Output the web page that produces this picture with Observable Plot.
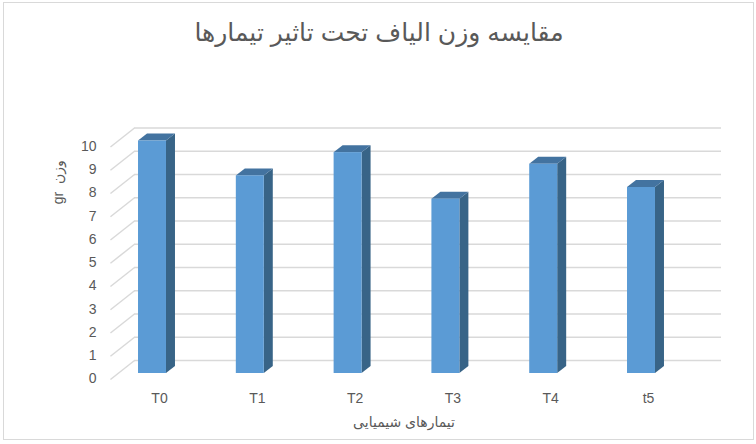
<!DOCTYPE html>
<html>
<head>
<meta charset="utf-8">
<script src="https://cdn.jsdelivr.net/npm/d3@7"></script>
<script src="https://cdn.jsdelivr.net/npm/@observablehq/plot@0.6"></script>
<style>
  html, body { margin: 0; padding: 0; background: #fff; }
  #chart { position: relative; width: 756px; height: 444px; overflow: hidden; }
  #chart svg { display: block; }
  #frame { position: absolute; left: 3px; top: 2px; width: 749px; height: 436px; border: 1px solid #d9d9d9; box-sizing: content-box; pointer-events: none; }
</style>
</head>
<body>
<div id="chart"><div id="frame"></div></div>
<script>
const categories = ["T0", "T1", "T2", "T3", "T4", "t5"];
const values = [10, 8.5, 9.5, 7.5, 9, 8];
const valueTicks = [0, 1, 2, 3, 4, 5, 6, 7, 8, 9, 10];
const titleText = "مقایسه وزن الیاف تحت تاثیر تیمارها";
const xTitle = "تیمارهای شیمیایی";
const yTitle = "gr  وزن";

// 3D projection constants, in scale units
const halfBar = 0.143, depthX = 0.092, depthY = 0.30;
const wallLeft = -0.184, wallRight = 5.818, wallRise = 0.559;
const floorLeft = -0.43, floorDrop = -0.258;

const bars = categories.map((c, i) => ({c, i, v: values[i]}));
const font = "'Liberation Sans', 'DejaVu Sans', sans-serif";

const sideFaces = bars.flatMap(b => [
  {z: b.c, x: b.i + halfBar, y1: 0, y2: b.v},
  {z: b.c, x: b.i + halfBar + depthX, y1: depthY, y2: b.v + depthY}
]);
const topFaces = bars.flatMap(b => [
  {z: b.c, y: b.v, x1: b.i - halfBar, x2: b.i + halfBar},
  {z: b.c, y: b.v + depthY, x1: b.i - halfBar + depthX, x2: b.i + halfBar + depthX}
]);

const chart = Plot.plot({
  width: 756,
  height: 444,
  marginLeft: 152,
  marginRight: 115,
  marginTop: 140.5,
  marginBottom: 71,
  style: {background: "transparent", fontFamily: font},
  x: {domain: [0, 5], range: [152, 641], axis: null},
  y: {domain: [0, 10], range: [373, 140.5], axis: null},
  marks: [
    Plot.ruleY(valueTicks, {y: d => d + wallRise, x1: wallLeft, x2: wallRight, stroke: "#d9d9d9", strokeWidth: 1.5}),
    Plot.link(valueTicks, {
      x1: floorLeft, y1: d => d + floorDrop,
      x2: wallLeft, y2: d => d + wallRise,
      stroke: "#d9d9d9", strokeWidth: 1.5
    }),
    Plot.areaY(sideFaces, {x: "x", y1: "y1", y2: "y2", z: "z", fill: "#386487", curve: "linear"}),
    Plot.areaX(topFaces, {y: "y", x1: "x1", x2: "x2", z: "z", fill: "#4373a0", curve: "linear"}),
    Plot.rect(bars, {x1: d => d.i - halfBar, x2: d => d.i + halfBar, y1: 0, y2: "v", fill: "#5b9bd5", inset: 0}),
    Plot.axisY({ticks: valueTicks, tickSize: 0, tickPadding: 56, dy: 5.5, label: null, fontSize: 14, color: "#595959"}),
    Plot.axisX({ticks: d3.range(categories.length), tickFormat: i => categories[i], tickSize: 0, tickPadding: 20, dx: 7, label: null, fontSize: 14, color: "#595959"}),
    Plot.text([titleText], {text: d => d, frameAnchor: "top", dy: -118, dx: -18, fontSize: 25, fill: "#595959", fontFamily: font}),
    Plot.text([xTitle], {text: d => d, frameAnchor: "bottom", dy: 53, dx: 7, fontSize: 14, fill: "#595959", fontFamily: font}),
    Plot.text([yTitle], {text: d => d, frameAnchor: "left", textAnchor: "middle", dx: -94, dy: -75, rotate: -90, fontSize: 14, fill: "#595959", fontFamily: font})
  ]
});
document.getElementById("chart").prepend(chart);
</script>
</body>
</html>
